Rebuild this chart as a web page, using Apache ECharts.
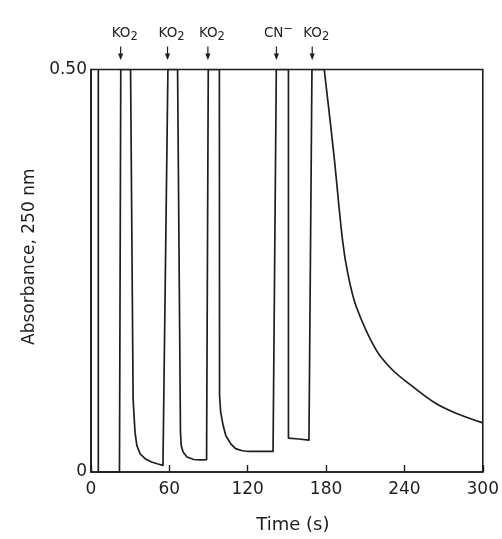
<!DOCTYPE html>
<html><head><meta charset="utf-8">
<script src="https://cdn.jsdelivr.net/npm/echarts@6/dist/echarts.min.js"></script>
<style>html,body{margin:0;padding:0;background:#fff}#c{width:502px;height:539px}</style>
</head><body><div id="c"></div><script>
// Recorder trace before the last addition (time in s, absorbance at 250 nm); off-scale parts drawn at 0.50
const time = [5.6, 5.6, 21.8, 22.8, 30.3,
  32.25, 33.1, 33.7, 35.1, 37.6, 41.4, 46.4, 51.3, 55.1, 56.3, 58.9,
  66.3, 68.5, 69.1, 70.5, 73.5, 78.6, 83.6, 88.5, 89.8,
  98.3, 98.45, 99.3, 101.2, 103.2, 107.0, 110.7, 115.8, 120.8, 139.4, 141.9,
  151.2, 151.2, 159.0, 166.9, 169.2, 178.6];
const absorbance = [0.5, 0, 0, 0.5, 0.5,
  0.0908, 0.066, 0.0495, 0.033, 0.0227, 0.0165, 0.0124, 0.0099, 0.0082, 0.0082, 0.5,
  0.5, 0.0495, 0.033, 0.0248, 0.0186, 0.0155, 0.015, 0.0152, 0.5,
  0.5, 0.0948, 0.0743, 0.0577, 0.0453, 0.035, 0.029, 0.0264, 0.0255, 0.0255, 0.5,
  0.5, 0.042, 0.041, 0.0396, 0.5, 0.5];
// Slow decay after the final KO2 addition
const decayTime = [178.6, 186.0, 192.6, 196.6, 203.0, 218.2, 230.7, 245.7, 263.2, 278.1, 300];
const decayAbsorbance = [0.5, 0.394, 0.288, 0.247, 0.206, 0.152, 0.127, 0.107, 0.086, 0.074, 0.061];
const xTickValues = [0, 60, 120, 180, 240, 300];
const yTickValues = [0, 0.5];
// Additions marked by arrows
const additionTimes = [22.7, 58.6, 89.5, 142.0, 169.4];
const additionSpecies = ['KO2', 'KO2', 'KO2', 'CN-', 'KO2'];

const ink = '#1e1e1e';
const font = 'DejaVu Sans';

function speciesRich(s) {
  if (s.endsWith('2')) return '{m|' + s.slice(0, -1) + '}{sub|2}';
  if (s.endsWith('-')) return '{m|' + s.slice(0, -1) + '}{sup|\u2212}';
  return '{m|' + s + '}';
}

const chart = echarts.init(document.getElementById('c'), null, {renderer: 'canvas'});
chart.setOption({
  animation: false,
  backgroundColor: '#ffffff',
  grid: {left: 91, right: 8, top: 69.5, bottom: 66, show: true, borderColor: ink, borderWidth: 1.6, backgroundColor: 'transparent'},
  xAxis: {
    type: 'value', min: xTickValues[0], max: xTickValues[xTickValues.length - 1], interval: 60,
    axisLine: {show: true, lineStyle: {color: ink, width: 1.6}},
    axisTick: {show: true, inside: true, length: 7, lineStyle: {color: ink, width: 1.4}},
    splitLine: {show: false},
    axisLabel: {fontFamily: font, fontSize: 17, color: ink, margin: 9},
    name: 'Time (s)', nameLocation: 'middle', nameGap: 44,
    nameTextStyle: {fontFamily: font, fontSize: 18, color: ink, padding: [0, 0, 0, 12]}
  },
  yAxis: {
    type: 'value', min: yTickValues[0], max: yTickValues[1], interval: 0.5,
    axisLine: {show: true, lineStyle: {color: ink, width: 1.6}},
    axisTick: {show: false},
    splitLine: {show: false},
    axisLabel: {fontFamily: font, fontSize: 17, color: ink, margin: 4,
      formatter: v => v === 0 ? '0' : v.toFixed(2)},
    name: 'Absorbance, 250 nm', nameLocation: 'middle', nameGap: 45,
    nameTextStyle: {fontFamily: font, fontSize: 17, color: ink, padding: [0, 0, 0, 28]}
  },
  series: [
    {
      type: 'line',
      data: time.map((t, i) => [t, absorbance[i]]),
      symbol: 'none', clip: true,
      lineStyle: {color: ink, width: 1.7, join: 'round'},
      z: 3
    },
    {
      type: 'line',
      data: decayTime.map((t, i) => [t, decayAbsorbance[i]]),
      symbol: 'none', clip: true, smooth: 0.35,
      lineStyle: {color: ink, width: 1.7, join: 'round'},
      z: 3
    },
    {
      type: 'custom',
      data: additionTimes.map((t, i) => [t, yTickValues[1], i]),
      clip: false,
      z: 4,
      renderItem: function (params, api) {
        const p = api.coord([api.value(0), api.value(1)]);
        const idx = api.value(2);
        const sp = additionSpecies[idx];
        const x = p[0], y = p[1];
        const isCN = sp.startsWith('CN');
        return {
          type: 'group',
          children: [
            {type: 'line', shape: {x1: x, y1: y - 23, x2: x, y2: y - 11}, style: {stroke: ink, lineWidth: 1.2}},
            {type: 'polygon', shape: {points: [[x - 2.6, y - 16], [x + 2.6, y - 16], [x, y - 9.5]]}, style: {fill: ink}},
            {type: 'text', x: x - (isCN ? 12.5 : 9), y: y - 46.5,
              style: {
                text: speciesRich(sp), fill: ink, align: 'left', verticalAlign: 'top',
                rich: {
                  m: {fontFamily: font, fontSize: 13.5, lineHeight: 20, fill: ink},
                  sub: {fontFamily: font, fontSize: 11.5, lineHeight: 11, verticalAlign: 'bottom', fill: ink},
                  sup: {fontFamily: font, fontSize: 11.5, lineHeight: 11, verticalAlign: 'top', fill: ink}
                }
              }}
          ]
        };
      }
    }
  ]
});
</script></body></html>
